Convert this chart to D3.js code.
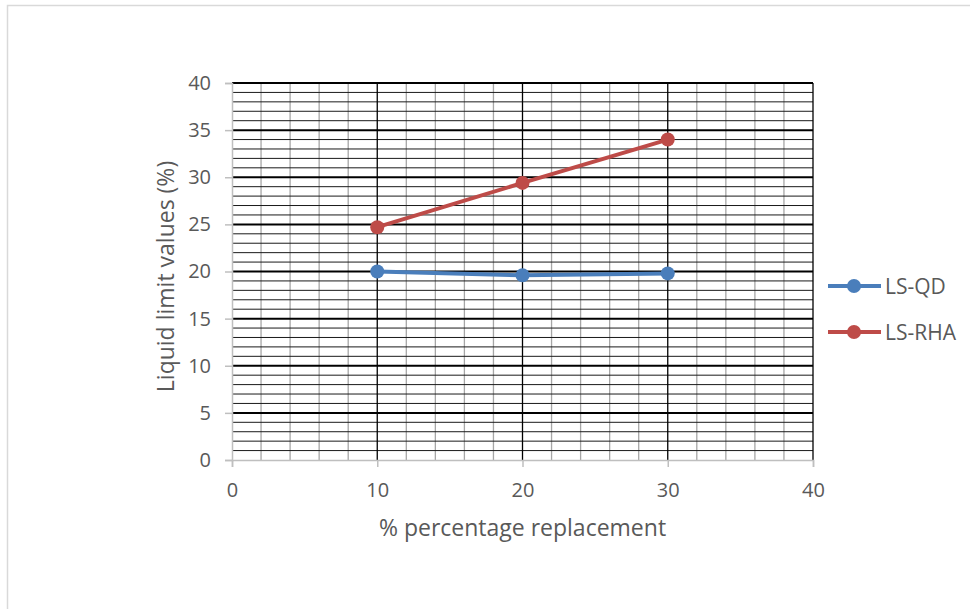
<!DOCTYPE html>
<html>
<head>
<meta charset="utf-8">
<script src="https://cdn.jsdelivr.net/npm/d3@7"></script>
<style>
  html, body { margin: 0; padding: 0; background: #fff; }
  svg { display: block; }
  text { font-family: "Open Sans", "Liberation Sans", sans-serif; fill: #595959; }
</style>
</head>
<body>
<svg id="chart" width="970" height="609"></svg>
<script>
// Replacement percentages (x) and liquid limit results (y)
const replacement = [10, 20, 30];
const lsQD = [20.0, 19.6, 19.8];
const lsRHA = [24.7, 29.4, 34.0];
const seriesNames = ["LS-QD", "LS-RHA"];
const seriesColors = ["#4a7ebb", "#be4b48"];
const xTicks = [0, 10, 20, 30, 40];
const yTicks = [0, 5, 10, 15, 20, 25, 30, 35, 40];

const svg = d3.select("#chart");
const plot = { left: 232, right: 813, top: 83, bottom: 460 };

// Chart frame
svg.append("rect")
  .attr("x", 7.5).attr("y", 5.5)
  .attr("width", 980).attr("height", 620)
  .attr("fill", "#fff").attr("stroke", "#d9d9d9").attr("stroke-width", 1.5);

const x = d3.scaleLinear().domain([0, 40]).range([plot.left, plot.right]);
const y = d3.scaleLinear().domain([0, 40]).range([plot.bottom, plot.top]);

const grid = svg.append("g");

// Minor vertical gridlines every 2
grid.selectAll("line.vmin")
  .data(d3.range(2, 40, 2).filter(v => v % 10 !== 0))
  .join("line")
  .attr("x1", d => x(d)).attr("x2", d => x(d))
  .attr("y1", plot.top).attr("y2", plot.bottom)
  .attr("stroke", "#a6a6a6").attr("stroke-width", 1.3);

// Minor horizontal gridlines every 1
grid.selectAll("line.hmin")
  .data(d3.range(1, 40, 1).filter(v => v % 5 !== 0))
  .join("line")
  .attr("x1", plot.left).attr("x2", plot.right)
  .attr("y1", d => y(d)).attr("y2", d => y(d))
  .attr("stroke", "#1a1a1a").attr("stroke-width", 1);

// Major vertical gridlines every 10
grid.selectAll("line.vmaj")
  .data([10, 20, 30, 40])
  .join("line")
  .attr("x1", d => x(d)).attr("x2", d => x(d))
  .attr("y1", plot.top).attr("y2", plot.bottom)
  .attr("stroke", "#000").attr("stroke-width", 1.3);

// Major horizontal gridlines every 5
grid.selectAll("line.hmaj")
  .data(yTicks.filter(v => v > 0))
  .join("line")
  .attr("x1", plot.left).attr("x2", plot.right)
  .attr("y1", d => y(d)).attr("y2", d => y(d))
  .attr("stroke", "#000").attr("stroke-width", 2);

// Axes
const xAxis = svg.append("g")
  .attr("transform", `translate(0,${plot.bottom})`)
  .call(d3.axisBottom(x).tickValues(xTicks).tickSize(7).tickPadding(16));
const yAxis = svg.append("g")
  .attr("transform", `translate(${plot.left},0)`)
  .call(d3.axisLeft(y).tickValues(yTicks).tickSize(7).tickPadding(14));

[xAxis, yAxis].forEach(a => {
  a.select(".domain").attr("stroke", "#bfbfbf").attr("stroke-width", 1.5);
  a.selectAll(".tick line").attr("stroke", "#bfbfbf").attr("stroke-width", 1.5);
  a.selectAll(".tick text")
    .style("font-family", '"Open Sans", "Liberation Sans", sans-serif')
    .style("font-size", "20px").attr("fill", "#595959");
});

// Axis titles
svg.append("text")
  .attr("x", (plot.left + plot.right) / 2).attr("y", 536)
  .attr("text-anchor", "middle").style("font-size", "23px")
  .text("% percentage replacement");
svg.append("text")
  .attr("transform", `translate(174,${(plot.top + plot.bottom) / 2 + 5}) rotate(-90)`)
  .attr("text-anchor", "middle").style("font-size", "23px")
  .text("Liquid limit values (%)");

// Series
const series = [lsQD, lsRHA];
const line = d3.line().x((d, i) => x(replacement[i])).y(d => y(d));
series.forEach((vals, s) => {
  svg.append("path")
    .datum(vals)
    .attr("d", line)
    .attr("fill", "none")
    .attr("stroke", seriesColors[s])
    .attr("stroke-width", 4)
    .attr("stroke-linejoin", "round");
  svg.selectAll(null)
    .data(vals)
    .join("circle")
    .attr("cx", (d, i) => x(replacement[i]))
    .attr("cy", d => y(d))
    .attr("r", 7)
    .attr("fill", seriesColors[s]);
});

// Legend
const legend = svg.append("g");
seriesNames.forEach((name, s) => {
  const ly = 286 + s * 46;
  legend.append("line")
    .attr("x1", 828).attr("x2", 881).attr("y1", ly).attr("y2", ly)
    .attr("stroke", seriesColors[s]).attr("stroke-width", 4);
  legend.append("circle")
    .attr("cx", 854).attr("cy", ly).attr("r", 7).attr("fill", seriesColors[s]);
  legend.append("text")
    .attr("x", 885).attr("y", ly + 7.5)
    .style("font-size", "21px")
    .text(name);
});
</script>
</body>
</html>
